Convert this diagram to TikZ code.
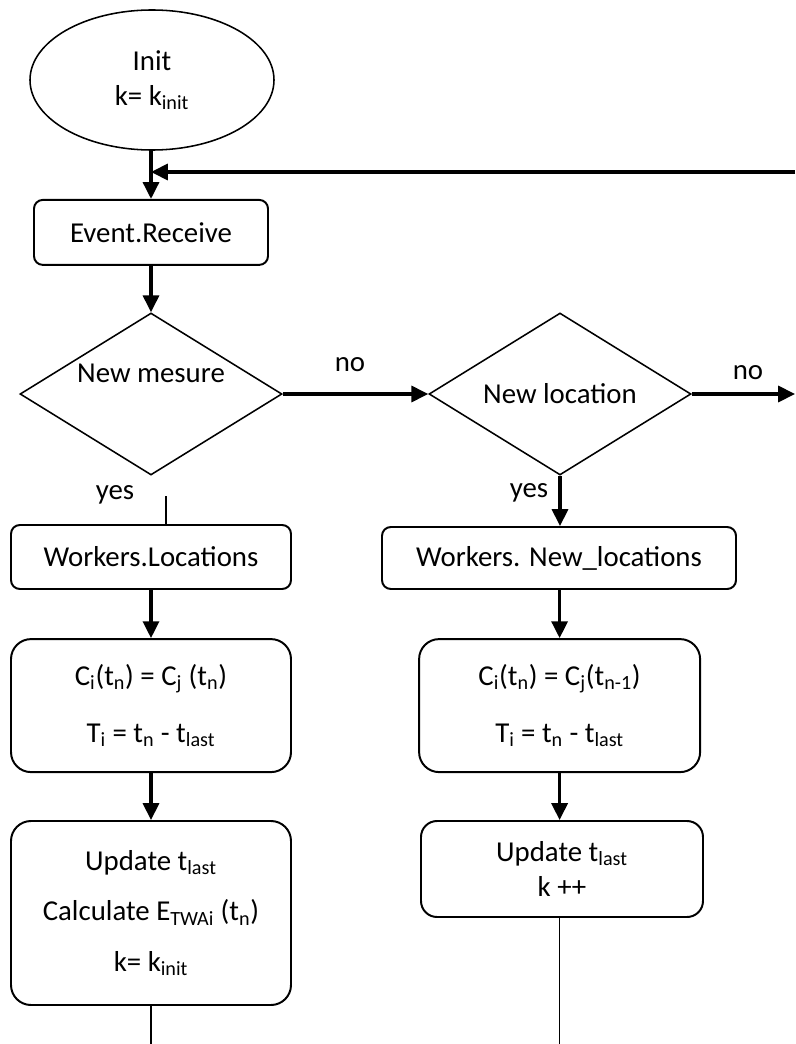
\documentclass[tikz,border=0pt]{standalone}
\usepackage{fontspec}
\setmainfont{Carlito}
\usetikzlibrary{shapes.geometric,arrows.meta}

\begin{document}
\begin{tikzpicture}[
  every node/.style={font=\fontsize{20.5}{25}\selectfont},
  startstop/.style={draw, ellipse, line width=1.1pt, minimum width=6.1cm, minimum height=3.5cm, align=center},
  decision/.style={draw, diamond, aspect=1.62, line width=1.1pt, inner sep=0pt, minimum width=6.55cm, minimum height=4.05cm},
  stepbox/.style={draw, rounded corners=0.22cm, line width=1.4pt, align=center, inner sep=0pt},
  bigbox/.style={stepbox, rounded corners=0.5cm},
  arrow/.style={line width=2.3pt, -{Triangle[length=0.42cm,width=0.4cm]}},
  plain/.style={line width=1.1pt}
]
\useasboundingbox (0,0) rectangle (19.875,-26.1);

% left column
\node[startstop] (init) at (3.8,-2) {Init\\k= k\textsubscript{init}};
\node[stepbox, minimum width=5.85cm, minimum height=1.625cm] (event) at (3.775,-5.81) {Event.Receive};
\node[decision] (mesure) at (3.775,-9.85) {};
\node (mesuretext) at (3.775,-9.325) {New mesure};
\node[stepbox, minimum width=7cm, minimum height=1.6cm] (locs) at (3.775,-13.925) {Workers.Locations};
\node[bigbox, minimum width=7cm, minimum height=3.325cm] (cleft) at (3.775,-17.64)
  {C\textsubscript{i}(t\textsubscript{n}) = C\textsubscript{j} (t\textsubscript{n})\\[15.5pt]T\textsubscript{i} = t\textsubscript{n} - t\textsubscript{last}};
\node[bigbox, minimum width=7cm, minimum height=4.6cm] (updleft) at (3.775,-22.825)
  {Update t\textsubscript{last}\\[11pt]Calculate E\textsubscript{TWAi} (t\textsubscript{n})\\[11pt]k= k\textsubscript{init}};

% right column
\node[decision] (location) at (14,-9.85) {New location};
\node[stepbox, minimum width=8.85cm, minimum height=1.55cm] (newlocs) at (13.975,-13.95) {Workers. New\_locations};
\node[bigbox, minimum width=7.025cm, minimum height=3.325cm] (cright) at (13.99,-17.64)
  {C\textsubscript{i}(t\textsubscript{n}) = C\textsubscript{j}(t\textsubscript{n-1})\\[15.5pt]T\textsubscript{i} = t\textsubscript{n} - t\textsubscript{last}};
\node[stepbox, rounded corners=0.4cm, minimum width=7.05cm, minimum height=2.4cm] (updright) at (14.05,-21.725)
  {Update t\textsubscript{last}\\k ++};

% labels
\node (no1) at (8.75,-9.125) {no};
\node (no2) at (18.7,-9.325) {no};
\node (yes1) at (2.875,-12.375) {yes};
\node (yes2) at (13.225,-12.325) {yes};

% free ends
\coordinate (loop) at (19.875,-4.3);
\coordinate (exit) at (19.875,-9.85);
\coordinate (yesgap) at (4.15,-12.4);
\coordinate (endleft) at (3.775,-26.1);
\coordinate (endright) at (13.99,-26.1);

% connectors
\draw[arrow] (event.north |- init.south) -- (event.north);
\draw[arrow] (loop) -- (loop -| event.north);
\draw[arrow] (event) -- (mesure);
\draw[arrow] (mesure.east) -- (location.west);
\draw[arrow] (location.east) -- (exit);
\draw[line width=1.4pt] (yesgap) -- (yesgap |- locs.north);
\draw[arrow] (location.south) -- (location.south |- newlocs.north);
\draw[arrow] (locs) -- (cleft);
\draw[arrow] (cleft) -- (updleft);
\draw[arrow] (newlocs.south -| cright.north) -- (cright.north);
\draw[arrow] (cright) -- (cright |- updright.north);
\draw[plain] (updleft) -- (endleft);
\draw[plain] (updright.south -| endright) -- (endright);
\end{tikzpicture}
\end{document}
